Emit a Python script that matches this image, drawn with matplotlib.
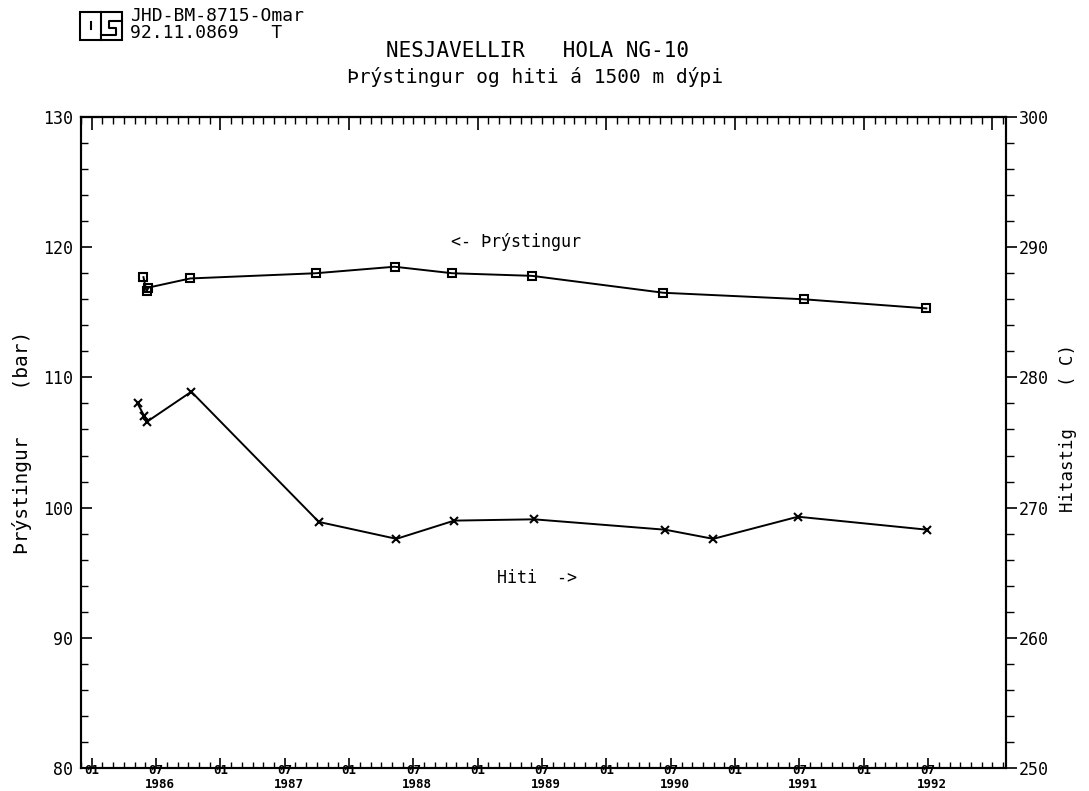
import matplotlib.pyplot as plt
from matplotlib.patches import Rectangle
from matplotlib.ticker import MultipleLocator
from matplotlib.transforms import blended_transform_factory

plt.rcParams['font.family'] = ['DejaVu Sans Mono', 'DejaVu Sans']

# Þrýstingur (bar), vinstri ás
thr_dates = [1986.402, 1986.426, 1986.441, 1986.766, 1987.741, 1988.353,
             1988.802, 1989.421, 1990.443, 1991.534, 1992.486]
thr_bar = [117.7, 116.6, 116.9, 117.6, 118.0, 118.5,
           118.0, 117.8, 116.5, 116.0, 115.3]

# Hiti (C), hægri ás
hiti_dates = [1986.356, 1986.410, 1986.430, 1986.774, 1987.765, 1988.368,
              1988.817, 1989.437, 1990.458, 1990.830, 1991.488, 1992.494]
hiti_c = [278.0, 277.0, 276.6, 278.9, 268.9, 267.6,
          269.0, 269.1, 268.3, 267.6, 269.3, 268.3]

years = list(range(1986, 1993))
W, H = 1089, 791

fig = plt.figure(figsize=(W / 100, H / 100), dpi=100)
ax = fig.add_axes([81 / W, 1 - 768 / H, 925 / W, 651 / H])
ax2 = ax.twinx()

ax.plot(thr_dates, thr_bar, color='black', lw=1.4, marker='s', ms=6,
        mfc='none', mew=1.5)
ax2.plot(hiti_dates, hiti_c, color='black', lw=1.4, marker='x', ms=6, mew=1.5)

ax.set_xlim(1985.945, 1993.105)
ax.set_ylim(80, 130)
ax2.set_ylim(250, 300)

# x ás: 01 og 07 merkt, mánaðarstrik
major_pos = [y + h for y in years for h in (0.0, 0.5)]
major_lab = ['01', '07'] * len(years)
minor_pos = [1986 + m / 12 for m in range(-1, 86)]
ax.set_xticks(major_pos)
ax.set_xticklabels(major_lab, fontsize=9, fontweight='bold')
ax.set_xticks(minor_pos, minor=True)
ax.tick_params(axis='x', which='major', direction='in', length=7, width=1.2, pad=-3)
ax.tick_params(axis='x', which='minor', direction='in', length=4, width=1.0)

# ártal undir 07
trans = blended_transform_factory(ax.transData, fig.transFigure)
for y in years:
    ax.text(y + 0.53, 0.0, str(y), transform=trans, fontsize=9,
            fontweight='bold', ha='center', va='bottom')

top = ax.secondary_xaxis('top')
top.set_xticks([float(y) for y in years] + [1993.0])
top.set_xticks(minor_pos, minor=True)
top.tick_params(which='major', direction='in', length=9, width=1.2,
                labeltop=False, labelbottom=False)
top.tick_params(which='minor', direction='in', length=5, width=1.0)
top.spines['top'].set_linewidth(1.5)

ax.yaxis.set_major_locator(MultipleLocator(10))
ax.yaxis.set_minor_locator(MultipleLocator(2))
ax.tick_params(axis='y', which='both', direction='in', left=True, right=False)
ax.tick_params(axis='y', which='major', length=8, width=1.2, labelsize=12, pad=6)
ax.tick_params(axis='y', which='minor', length=5, width=1.0)

ax2.yaxis.set_major_locator(MultipleLocator(10))
ax2.yaxis.set_minor_locator(MultipleLocator(2))
ax2.tick_params(axis='y', which='both', direction='out', left=False, right=True)
ax2.tick_params(axis='y', which='major', length=8, width=1.2, labelsize=12, pad=1)
ax2.tick_params(axis='y', which='minor', length=6, width=1.0)

for a in (ax, ax2):
    for s in a.spines.values():
        s.set_linewidth(1.5)

# textar
fig.text(130 / W, 1 - 16 / H, 'JHD-BM-8715-Omar', fontsize=13, va='center')
fig.text(130 / W, 1 - 33 / H, '92.11.0869   T', fontsize=13, va='center')
fig.text(537 / W, 1 - 51 / H, 'NESJAVELLIR   HOLA NG-10', fontsize=15,
         ha='center', va='center')
fig.text(535 / W, 1 - 77 / H, 'Þrýstingur og hiti á 1500 m dýpi', fontsize=14,
         ha='center', va='center')
fig.text(516 / W, 1 - 242 / H, '<- Þrýstingur', fontsize=12, ha='center', va='center')
fig.text(537 / W, 1 - 578 / H, 'Hiti  ->', fontsize=12, ha='center', va='center')
fig.text(22 / W, 1 - 442 / H, 'Þrýstingur    (bar)', fontsize=14, rotation=90,
         ha='center', va='center')
fig.text(1068 / W, 1 - 428 / H, 'Hitastig    ( C)', fontsize=12.5, rotation=90,
         ha='center', va='center')

# merki (OS)
lg = fig.add_axes([0, 0, 1, 1])
lg.set_xlim(0, W)
lg.set_ylim(H, 0)
lg.axis('off')
lg.patch.set_alpha(0)
lg.add_patch(Rectangle((80, 12), 42, 28, fill=False, lw=1.5, color='black'))
lg.plot([101, 101], [12, 40], color='black', lw=1.5)
lg.plot([91, 91], [22, 29], color='black', lw=1.5)
lg.plot([122, 109, 109, 116, 116, 101], [21, 21, 28, 28, 35, 35], color='black', lw=1.5)

fig.savefig('out.png', dpi=100)
